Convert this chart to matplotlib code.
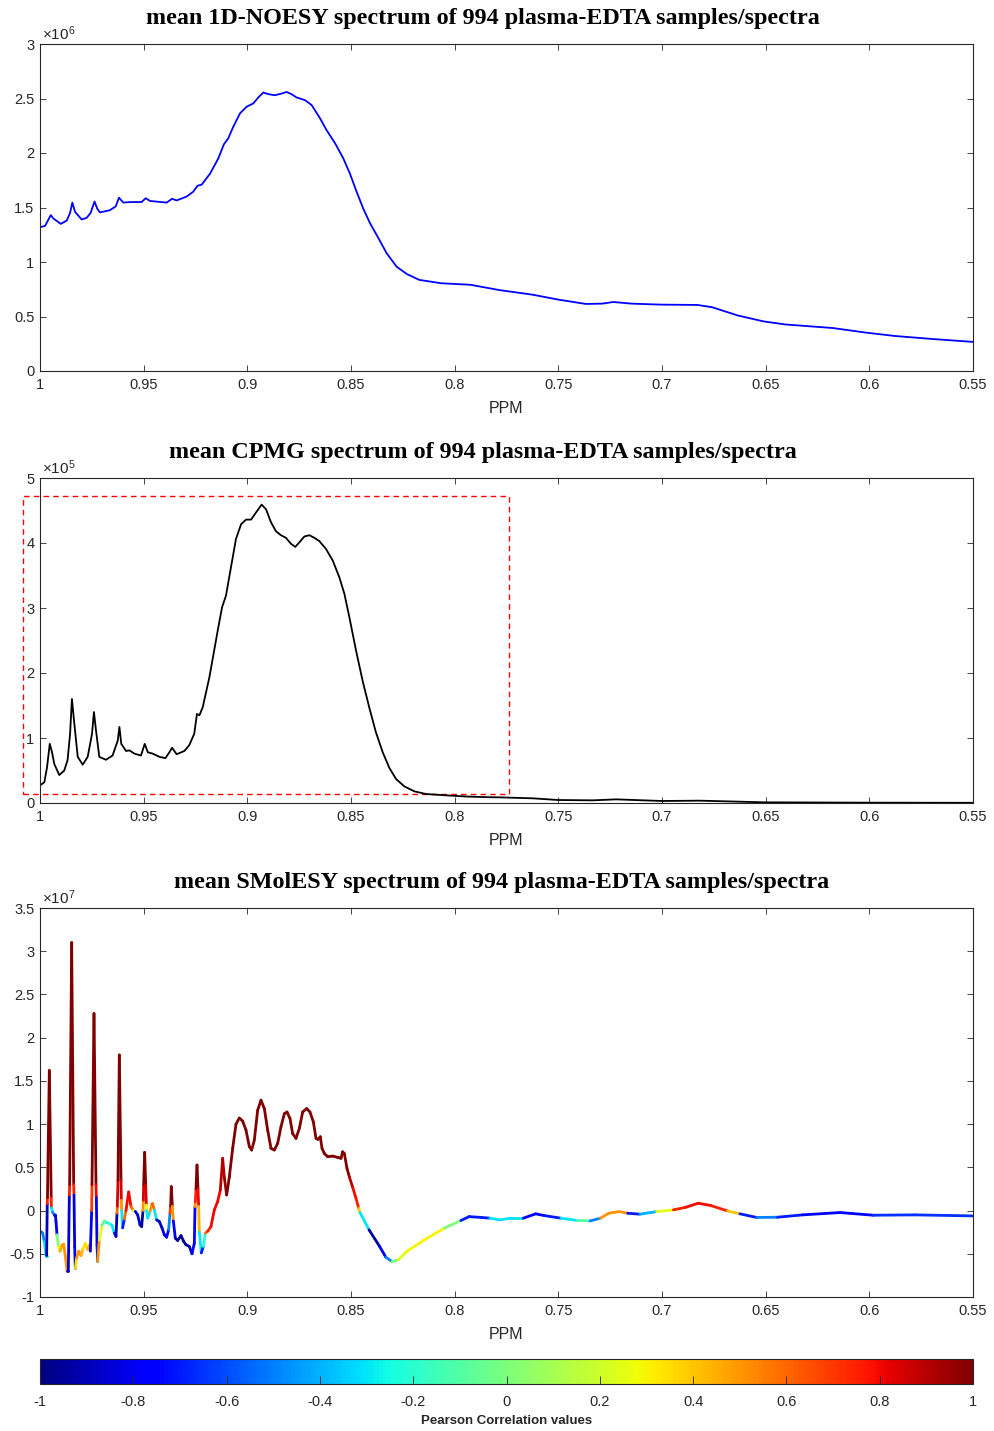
import numpy as np
import matplotlib
matplotlib.use("Agg")
import matplotlib.pyplot as plt
from matplotlib.collections import LineCollection
from matplotlib.patches import Rectangle
from matplotlib.ticker import FuncFormatter

plt.rcParams['font.family'] = ['Liberation Sans', 'DejaVu Sans']
plt.rcParams['mathtext.fontset'] = 'custom'
plt.rcParams['mathtext.rm'] = 'Liberation Sans'
plt.rcParams['mathtext.it'] = 'Liberation Sans'

# mean 1D-NOESY spectrum (intensity in units of 1e6)
noesy_ppm = [1.0, 0.9976, 0.9948, 0.9936, 0.990, 0.9871, 0.9855, 0.9844, 0.9831, 0.9799,
             0.9775, 0.9756, 0.9737, 0.9724, 0.9711, 0.9663, 0.9635, 0.9619, 0.9598, 0.9566,
             0.951, 0.949, 0.9469, 0.9389, 0.9363, 0.9341, 0.9293, 0.9261, 0.924, 0.922,
             0.918, 0.914, 0.9113, 0.9092, 0.9068, 0.9035, 0.9003, 0.8971, 0.8947, 0.8923,
             0.8899, 0.8867, 0.8835, 0.8811, 0.8787, 0.8763, 0.8722, 0.869, 0.865, 0.8618,
             0.8577, 0.8537, 0.8505, 0.8473, 0.8441, 0.8408, 0.8368, 0.8328, 0.828, 0.8231,
             0.8171, 0.8065, 0.7924, 0.7783, 0.7624, 0.75, 0.7367, 0.7288, 0.7235, 0.7147,
             0.7005, 0.6829, 0.6758, 0.6634, 0.651, 0.6405, 0.6175, 0.6016, 0.5875, 0.5698,
             0.55]
noesy_int = [1.32, 1.33, 1.43, 1.40, 1.35, 1.38, 1.45, 1.545, 1.46, 1.39,
             1.405, 1.45, 1.555, 1.49, 1.455, 1.475, 1.51, 1.59, 1.545, 1.55,
             1.55, 1.585, 1.56, 1.545, 1.58, 1.565, 1.60, 1.645, 1.70, 1.71,
             1.81, 1.95, 2.08, 2.135, 2.24, 2.365, 2.425, 2.455, 2.51, 2.555,
             2.54, 2.53, 2.545, 2.56, 2.54, 2.51, 2.485, 2.44, 2.32, 2.21,
             2.09, 1.95, 1.81, 1.645, 1.49, 1.355, 1.22, 1.08, 0.957, 0.89,
             0.836, 0.805, 0.791, 0.742, 0.70, 0.655, 0.615, 0.618, 0.633, 0.618,
             0.609, 0.606, 0.585, 0.509, 0.455, 0.427, 0.394, 0.352, 0.321, 0.294,
             0.267]

# mean CPMG spectrum (intensity in units of 1e5)
cpmg_ppm = [1.0, 0.9979, 0.9966, 0.9953, 0.9942, 0.9931, 0.9907, 0.9883, 0.9867, 0.9855,
            0.9846, 0.9836, 0.9818, 0.9794, 0.977, 0.9749, 0.974, 0.973, 0.9714, 0.9682,
            0.965, 0.9625, 0.9617, 0.9608, 0.9585, 0.9569, 0.9545, 0.9513, 0.9495, 0.948,
            0.9457, 0.9424, 0.9395, 0.9376, 0.9363, 0.9341, 0.9304, 0.928, 0.9256, 0.9243,
            0.9231, 0.9215, 0.9183, 0.9143, 0.9122, 0.9103, 0.9079, 0.9055, 0.903, 0.9006,
            0.8982, 0.8958, 0.8931, 0.891, 0.8886, 0.8862, 0.8838, 0.8814, 0.879, 0.8769,
            0.8749, 0.8725, 0.8701, 0.8677, 0.8653, 0.8621, 0.8588, 0.8556, 0.8532, 0.8508,
            0.8476, 0.8444, 0.8412, 0.838, 0.8347, 0.8315, 0.8283, 0.8243, 0.8195, 0.8138,
            0.8042, 0.7945, 0.7849, 0.7785, 0.7624, 0.75, 0.7334, 0.7222, 0.70, 0.682,
            0.65, 0.60, 0.55]
cpmg_int = [0.27, 0.32, 0.55, 0.91, 0.78, 0.60, 0.43, 0.50, 0.66, 1.06,
            1.60, 1.27, 0.71, 0.59, 0.71, 1.065, 1.40, 1.12, 0.71, 0.665,
            0.73, 0.96, 1.17, 0.91, 0.80, 0.81, 0.76, 0.73, 0.91, 0.78,
            0.76, 0.71, 0.69, 0.78, 0.85, 0.75, 0.80, 0.89, 1.065, 1.37,
            1.35, 1.475, 1.935, 2.65, 3.01, 3.19, 3.625, 4.06, 4.29, 4.36,
            4.36, 4.47, 4.59, 4.52, 4.32, 4.18, 4.12, 4.08, 3.99, 3.94,
            4.01, 4.10, 4.12, 4.08, 4.03, 3.91, 3.73, 3.47, 3.22, 2.86,
            2.35, 1.88, 1.47, 1.09, 0.78, 0.54, 0.37, 0.256, 0.18, 0.138,
            0.118, 0.10, 0.09, 0.087, 0.072, 0.046, 0.041, 0.056, 0.031, 0.036,
            0.01, 0.005, 0.003]

# highlighted region on the CPMG panel: ppm range and intensity range (1e5)
box_ppm = [1.008, 0.7738]
box_int = [0.138, 4.716]

# mean SMolESY spectrum (intensity in units of 1e7) and Pearson correlation per point
smolesy_ppm = [1.0, 0.99871, 0.99791, 0.99711, 0.99680, 0.99650, 0.99640, 0.99550, 0.99460, 0.99450,
               0.99389, 0.99309, 0.99260, 0.99228, 0.99180, 0.99100, 0.99035, 0.98939, 0.98859, 0.98778,
               0.98698, 0.98634, 0.98585, 0.98570, 0.98473, 0.98376, 0.98360, 0.98328, 0.98296, 0.98232,
               0.98135, 0.98023, 0.97942, 0.97814, 0.97701, 0.97621, 0.97572, 0.97508, 0.97492, 0.97396,
               0.97299, 0.97283, 0.97251, 0.97219, 0.97138, 0.97010, 0.96897, 0.96785, 0.96656, 0.96527,
               0.96415, 0.96334, 0.96286, 0.96270, 0.96238, 0.96174, 0.96093, 0.96077, 0.96061, 0.96013,
               0.95932, 0.95852, 0.95724, 0.95611, 0.95498, 0.95402, 0.95289, 0.95177, 0.95097, 0.95032,
               0.95016, 0.95000, 0.94952, 0.94903, 0.94871, 0.94855, 0.94807, 0.94695, 0.94598, 0.94566,
               0.94486, 0.94373, 0.94244, 0.94116, 0.94003, 0.93891, 0.93794, 0.93730, 0.93698, 0.93666,
               0.93617, 0.93569, 0.93473, 0.93360, 0.93199, 0.93071, 0.92958, 0.92797, 0.92669, 0.92556,
               0.92524, 0.92508, 0.92476, 0.92428, 0.92380, 0.92347, 0.92315, 0.92219, 0.92122, 0.92026,
               0.91913, 0.91753, 0.91592, 0.91431, 0.91302, 0.91190, 0.91109, 0.90997, 0.90868, 0.90707,
               0.90547, 0.90386, 0.90225, 0.90064, 0.89904, 0.89791, 0.89663, 0.89502, 0.89341, 0.89180,
               0.89019, 0.88859, 0.88698, 0.88537, 0.88376, 0.88216, 0.88087, 0.87942, 0.87814, 0.87653,
               0.87492, 0.87331, 0.87138, 0.86978, 0.86817, 0.86688, 0.86592, 0.86479, 0.86399, 0.86286,
               0.86125, 0.85884, 0.85643, 0.85482, 0.85402, 0.85321, 0.85193, 0.85080, 0.84920, 0.84759,
               0.84630, 0.84566, 0.8413, 0.8362, 0.8332, 0.8302, 0.8272, 0.8231, 0.8151, 0.805,
               0.797, 0.793, 0.787, 0.783, 0.778, 0.7729, 0.7669, 0.7609, 0.7568, 0.7488,
               0.7408, 0.7347, 0.7297, 0.7257, 0.7206, 0.7166, 0.7106, 0.7026, 0.6945, 0.6885,
               0.6825, 0.6765, 0.6684, 0.6624, 0.6543, 0.6443, 0.6322, 0.6141, 0.5981, 0.578,
               0.55]
smolesy_int = [-0.24, -0.26, -0.36, -0.52, -0.52, 0.08, 0.15, 1.62, 0.15, 0.03,
               -0.02, -0.05, -0.05, -0.127, -0.28, -0.415, -0.47, -0.40, -0.39, -0.53,
               -0.70, -0.70, 0.18, 0.30, 3.10, 0.30, 0.18, -0.42, -0.67, -0.55,
               -0.47, -0.52, -0.45, -0.38, -0.45, -0.40, -0.47, 0.00, 0.30, 2.28,
               0.30, 0.15, -0.40, -0.59, -0.34, -0.17, -0.12, -0.14, -0.15, -0.17,
               -0.26, -0.30, -0.03, 0.05, 0.35, 1.80, 0.35, 0.12, 0.00, -0.20,
               -0.10, 0.00, 0.215, 0.046, 0.00, -0.01, -0.05, -0.165, -0.185, 0.00,
               0.12, 0.30, 0.673, 0.30, 0.065, 0.00, -0.088, -0.01, 0.077, 0.08,
               0.008, -0.108, -0.127, -0.20, -0.28, -0.308, -0.22, -0.03, 0.05, 0.277,
               0.05, -0.12, -0.32, -0.346, -0.29, -0.357, -0.396, -0.415, -0.50, -0.377,
               0.046, 0.10, 0.25, 0.527, 0.25, 0.05, -0.25, -0.49, -0.415, -0.26,
               -0.24, -0.185, 0.008, 0.104, 0.238, 0.604, 0.38, 0.18, 0.39, 0.72,
               1.00, 1.07, 1.035, 0.93, 0.74, 0.70, 0.815, 1.16, 1.277, 1.18,
               0.93, 0.72, 0.70, 0.777, 0.97, 1.12, 1.14, 1.065, 0.89, 0.835,
               0.95, 1.14, 1.18, 1.14, 1.027, 0.835, 0.823, 0.854, 0.72, 0.66,
               0.623, 0.63, 0.615, 0.604, 0.68, 0.66, 0.488, 0.39, 0.27, 0.142,
               0.027, -0.023, -0.223, -0.415, -0.54, -0.59, -0.57, -0.473, -0.346, -0.204,
               -0.115, -0.07, -0.08, -0.088, -0.108, -0.088, -0.088, -0.038, -0.058, -0.088,
               -0.115, -0.12, -0.088, -0.031, -0.012, -0.031, -0.042, -0.012, 0.008, 0.038,
               0.085, 0.058, -0.004, -0.038, -0.08, -0.077, -0.05, -0.023, -0.054, -0.05,
               -0.062]
smolesy_corr = [-0.6, -0.5, -0.3, -0.35, -0.9, -0.9, 0.75, 1.0, 0.75, -0.3,
                -0.5, -0.85, -0.85, -0.8, 0.0, 0.3, 0.45, 0.45, 0.5, 0.5,
                -0.8, -0.85, -0.85, 0.75, 1.0, 0.75, -0.85, -0.75, 0.3, 0.35,
                0.5, 0.5, 0.45, 0.35, 0.5, 0.45, -0.75, -0.8, 0.7, 1.0,
                0.8, -0.8, -0.7, 0.4, 0.5, 0.25, -0.05, -0.25, -0.2, -0.3,
                -0.7, -0.9, -0.9, 0.6, 0.85, 1.0, 0.85, 0.5, -0.3, -0.8,
                -0.7, 0.6, 0.8, 0.6, 0.2, -0.8, -0.85, -0.9, -0.95, -0.95,
                0.5, 0.85, 1.0, 0.85, 0.25, -0.3, -0.8, -0.3, 0.5, 0.6,
                -0.3, -0.85, -0.9, -0.85, -0.8, -0.6, -0.75, -0.5, 0.7, 1.0,
                0.5, -0.75, -0.95, -0.95, -0.95, -0.95, -0.95, -0.9, -0.8, -0.75,
                -0.75, 0.5, 0.75, 1.0, 0.8, 0.45, -0.3, -0.7, -0.7, -0.2,
                0.6, 0.75, 0.8, 0.8, 0.8, 0.9, 0.95, 1.0, 1.0, 1.0,
                1.0, 1.0, 1.0, 1.0, 1.0, 1.0, 1.0, 1.0, 1.0, 1.0,
                1.0, 1.0, 1.0, 1.0, 1.0, 1.0, 1.0, 1.0, 1.0, 1.0,
                1.0, 1.0, 1.0, 1.0, 1.0, 1.0, 1.0, 1.0, 1.0, 1.0,
                1.0, 1.0, 1.0, 1.0, 1.0, 1.0, 1.0, 0.9, 0.8, 0.75,
                0.4, -0.3, -0.95, -0.8, -0.5, -0.25, 0.0, 0.25, 0.3, 0.3,
                0.0, -0.7, -0.7, -0.3, 0.1, -0.3, -0.7, -0.75, -0.7, -0.3,
                -0.1, 0.0, -0.5, 0.5, 0.5, -0.7, -0.75, -0.4, 0.25, 0.75,
                0.8, 0.75, 0.4, -0.7, -0.3, -0.5, -0.7, -0.75, -0.7, -0.65,
                -0.6]

ppm_ticks = [1, 0.95, 0.9, 0.85, 0.8, 0.75, 0.7, 0.65, 0.6, 0.55]
corr_ticks = [-1, -0.8, -0.6, -0.4, -0.2, 0, 0.2, 0.4, 0.6, 0.8, 1]

EDGE = '#262626'
W, H = 994, 1431


def fig_rect(left, top, right, bottom):
    return [left / W, 1 - bottom / H, (right - left) / W, (bottom - top) / H]


def style_axes(ax, ymin, ymax, ystep, exponent, title, title_x):
    ax.set_xlim(1, 0.55)
    ax.set_ylim(ymin, ymax)
    ax.set_xticks(ppm_ticks)
    ax.set_yticks(np.arange(ymin, ymax + ystep / 2, ystep))
    fmt = FuncFormatter(lambda v, p: '%g' % round(v, 3))
    ax.xaxis.set_major_formatter(fmt)
    ax.yaxis.set_major_formatter(fmt)
    ax.tick_params(direction='in', length=4.5, width=0.6, colors=EDGE, labelsize=10.5,
                   top=True, right=True, pad=5)
    ax.tick_params(axis='y', pad=4)
    for s in ax.spines.values():
        s.set_color(EDGE)
        s.set_linewidth(0.8)
    ax.set_xlabel('PPM', fontsize=11.5, color=EDGE, labelpad=6.5)
    ax.text(0.002, 1.003, r'$\times10^{%d}$' % exponent, transform=ax.transAxes,
            fontsize=11, color=EDGE, ha='left', va='bottom')
    ax.annotate(title, xy=(title_x, 1), xycoords='axes fraction', xytext=(0, 14.5),
                textcoords='offset points', ha='center', va='baseline',
                fontsize=17.4, fontweight='bold', family='Liberation Serif', color='black')


fig = plt.figure(figsize=(W / 100, H / 100), dpi=100)

ax1 = fig.add_axes(fig_rect(40, 44, 973, 371))
ax1.plot(noesy_ppm, noesy_int, color='blue', lw=1.3)
style_axes(ax1, 0, 3, 0.5, 6, 'mean 1D-NOESY spectrum of 994 plasma-EDTA samples/spectra', 0.475)

ax2 = fig.add_axes(fig_rect(40, 478, 973, 803))
ax2.plot(cpmg_ppm, cpmg_int, color='black', lw=1.3)
ax2.add_patch(Rectangle((box_ppm[0], box_int[0]), box_ppm[1] - box_ppm[0], box_int[1] - box_int[0],
                        fill=False, edgecolor='red', lw=1.0, linestyle=(0, (4, 3)), clip_on=False))
style_axes(ax2, 0, 5, 1, 5, 'mean CPMG spectrum of 994 plasma-EDTA samples/spectra', 0.475)

ax3 = fig.add_axes(fig_rect(40, 908, 973, 1297))
pts = np.column_stack([smolesy_ppm, smolesy_int])
segs = np.stack([pts[:-1], pts[1:]], axis=1)
corr = np.asarray(smolesy_corr)
inten = np.asarray(smolesy_int)
# each segment takes the correlation of its higher end, so peak flanks switch colour sharply
seg_corr = np.where(inten[1:] > inten[:-1], corr[1:], corr[:-1])
lc = LineCollection(segs, cmap='jet', norm=plt.Normalize(-1, 1), linewidths=2.0,
                    capstyle='round', joinstyle='round')
lc.set_array(seg_corr)
ax3.add_collection(lc)
style_axes(ax3, -1, 3.5, 0.5, 7, 'mean SMolESY spectrum of 994 plasma-EDTA samples/spectra', 0.495)

cax = fig.add_axes(fig_rect(40, 1359, 973, 1384))
cb = fig.colorbar(lc, cax=cax, orientation='horizontal', ticks=corr_ticks)
cb.ax.xaxis.set_major_formatter(FuncFormatter(lambda v, p: '%g' % round(v, 2)))
cb.ax.tick_params(direction='in', length=6, width=0.6, colors=EDGE, labelsize=10.5, pad=8)
cb.outline.set_edgecolor(EDGE)
cb.outline.set_linewidth(0.8)
cb.set_label('Pearson Correlation values', fontsize=9.5, fontweight='bold', color=EDGE, labelpad=4)

fig.savefig('out.png', dpi=100)
